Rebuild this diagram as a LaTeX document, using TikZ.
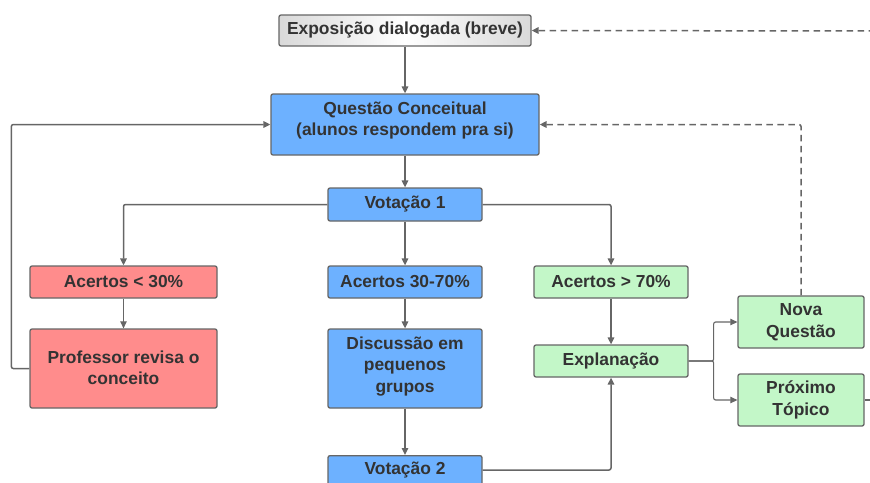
\documentclass[tikz,border=0pt]{standalone}
\usepackage{fontspec}
\setmainfont{Liberation Sans}
\usetikzlibrary{arrows.meta}
\definecolor{txt}{HTML}{333333}
\definecolor{edge}{HTML}{666666}
\definecolor{bluef}{HTML}{6DB1FF}
\definecolor{redf}{HTML}{FF8C8C}
\definecolor{greenf}{HTML}{C3F7C8}
\definecolor{grayf}{HTML}{D9D9D9}
\tikzset{
  lbl/.style={text=txt, font=\fontsize{17.4}{21.5}\selectfont\bfseries, align=center, inner sep=0pt},
  box/.style={lbl, draw=edge, line width=1.3pt, rounded corners=2pt},
  bluebox/.style={box, fill=bluef},
  redbox/.style={box, fill=redf},
  greenbox/.style={box, fill=greenf},
  conn/.style={draw=edge, line width=1.5pt, -{Triangle[length=7pt,width=6.5pt]}},
  dconn/.style={conn, dash pattern=on 6.5pt off 4.5pt},
}
\begin{document}
\begin{tikzpicture}[x=1pt,y=-1pt]
\useasboundingbox (0,0) rectangle (870,482);
\begin{scope}
\clip (0,0) rectangle (870,482);
\node[box, left color=grayf, right color=grayf, middle color=white, minimum width=252pt, minimum height=31pt] (expo) at (405,30.5) {Exposição dialogada (breve)};
\node[bluebox, minimum width=268pt, minimum height=61pt] (quest) at (405,124.5) {};
\node[lbl] (questt) at (405,120.5) {Questão Conceitual\\(alunos respondem pra si)};
\node[bluebox, minimum width=154pt, minimum height=33pt] (vot1) at (405,204.5) {Votação 1};
\node[redbox, minimum width=187pt, minimum height=32pt] (ac30) at (123.5,282) {Acertos < 30\%};
\node[bluebox, minimum width=154pt, minimum height=32pt] (ac3070) at (405,282) {Acertos 30-70\%};
\node[greenbox, minimum width=154pt, minimum height=32pt] (ac70) at (611,282) {Acertos > 70\%};
\node[redbox, minimum width=187pt, minimum height=79pt] (prof) at (123.5,368.5) {};
\node[lbl] (proft) at (123.5,368) {Professor revisa o\\conceito};
\node[bluebox, minimum width=154pt, minimum height=79pt] (disc) at (405,368.5) {};
\node[lbl] (disct) at (405,366.5) {Discussão em\\pequenos\\grupos};
\node[greenbox, minimum width=154pt, minimum height=32pt] (expl) at (611,361) {Explanação};
\node[greenbox, minimum width=126pt, minimum height=52pt] (nova) at (801,322) {};
\node[lbl] (novat) at (801,322) {Nova\\Questão};
\node[greenbox, minimum width=126pt, minimum height=52pt] (prox) at (801,400) {};
\node[lbl] (proxt) at (801,400) {Próximo\\Tópico};
\node[bluebox, minimum width=154pt, minimum height=33pt, anchor=north] (vot2) at (405,455) {};
\node[lbl] (vot2t) at (405,470.5) {Votação 2};
\coordinate (topright) at (875,31);
\coordinate (proxend) at (875,400);

\draw[conn] (expo) -- (quest);
\draw[conn] (quest) -- (vot1);
\draw[conn, rounded corners=2pt] (vot1.west) -| (ac30.north);
\draw[conn] (vot1) -- (ac3070);
\draw[conn, rounded corners=2pt] (vot1.east) -| (ac70.north);
\draw[conn, line width=1pt] (ac30) -- (prof);
\draw[conn, rounded corners=2pt] (prof.west) -- ++(-18,0) |- (quest.west);
\draw[conn] (ac3070) -- (disc);
\draw[conn] (disc) -- (vot2);
\draw[conn, rounded corners=2pt] (vot2.east |- 0,470) -| (expl.south);
\draw[conn] (ac70) -- (expl);
\draw[conn, line width=1.1pt, rounded corners=2pt] (expl.east) -- ++(25,0) |- (nova.west);
\draw[conn, line width=1.1pt, rounded corners=2pt] (expl.east) -- ++(25,0) |- (prox.west);
\draw[dconn, rounded corners=2pt] (nova.north) |- (quest.east);
\draw[dconn] (topright) -- (expo.east);
\draw[draw=edge, line width=1.5pt] (prox.east) -- (proxend);
\end{scope}
\end{tikzpicture}
\end{document}
